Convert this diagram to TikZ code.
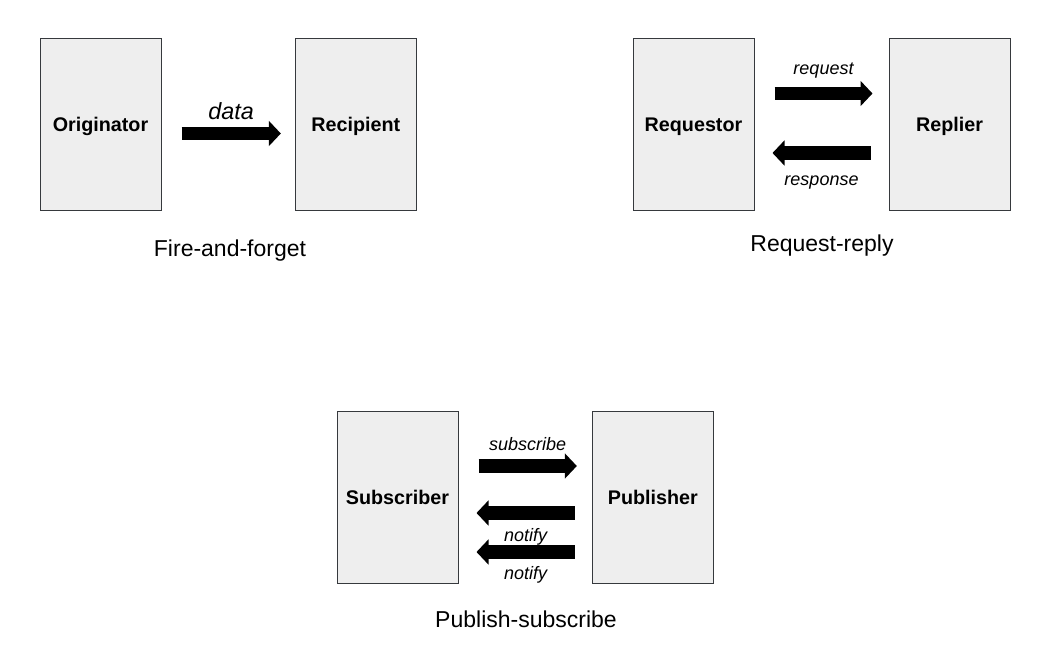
\documentclass[tikz,border=0pt]{standalone}
\usepackage{fontspec}
\setmainfont{Liberation Sans}
\usepackage{xcolor}
\usepackage{tikz}
\usetikzlibrary{arrows.meta,positioning}

\definecolor{boxfill}{HTML}{EEEEEE}
\definecolor{boxline}{HTML}{36393D}

\tikzset{
  box/.style={draw=boxline,fill=boxfill,line width=0.75pt,inner sep=0pt,
    minimum width=90.75pt,minimum height=129pt,text height=12pt,text depth=2.2pt,
    font=\fontsize{14.8}{17}\selectfont\bfseries},
  bigarrow/.style={line width=10pt,-{Triangle[length=9pt,width=18.5pt]}},
  msg/.style={inner sep=0pt,font=\fontsize{13.5}{16}\selectfont\itshape},
  bigmsg/.style={inner sep=0pt,font=\fontsize{17.5}{20}\selectfont\itshape},
  caption/.style={inner sep=0pt,font=\fontsize{17.25}{20}\selectfont}
}

\begin{document}
\begin{tikzpicture}[x=0.75pt,y=-0.75pt]
  \useasboundingbox (0,0) rectangle (1062,666);
  % fire-and-forget
  \node [box] (orig) at (100.5,124.5) {Originator};
  \node [box,right=100pt of orig] (recip) {Recipient};
  \draw [bigarrow] ([shift={(20,9)}]orig.east) -- ([shift={(-14,9)}]recip.west)
    node [bigmsg,midway,yshift=16.9pt] {data};
  \node [caption,anchor=base] (ffcap) at (230,257) {Fire-and-forget};
  % request-reply
  \node [box] (reqr) at (693.5,124.5) {Requestor};
  \node [box,right=100.5pt of reqr] (repl) {Replier};
  \draw [bigarrow] ([shift={(20,-31)}]reqr.east) -- ([shift={(-16,-31)}]repl.west)
    node [msg,midway,yshift=16.85pt] {request};
  \draw [bigarrow] ([shift={(-18,28.5)}]repl.west) -- ([shift={(18,28.5)}]reqr.east)
    node [msg,midway,yshift=-22.5pt] {response};
  \node [caption,anchor=base] (rrcap) at (822,252) {Request-reply};
  % publish-subscribe
  \node [box] (sub) at (397.5,497.5) {Subscriber};
  \node [box,right=100pt of sub] (pub) {Publisher};
  \draw [bigarrow] ([shift={(20,-31.5)}]sub.east) -- ([shift={(-15,-31.5)}]pub.west)
    node [msg,midway,yshift=16.2pt] {subscribe};
  \draw [bigarrow] ([shift={(-17,15.5)}]pub.west) -- ([shift={(18,15.5)}]sub.east)
    node [msg,midway,yshift=-18pt] {notify};
  \draw [bigarrow] ([shift={(-17,54.5)}]pub.west) -- ([shift={(18,54.5)}]sub.east)
    node [msg,midway,yshift=-17.25pt] {notify};
  \node [caption,anchor=base] (pscap) at (526,627) {Publish-subscribe};
\end{tikzpicture}
\end{document}
